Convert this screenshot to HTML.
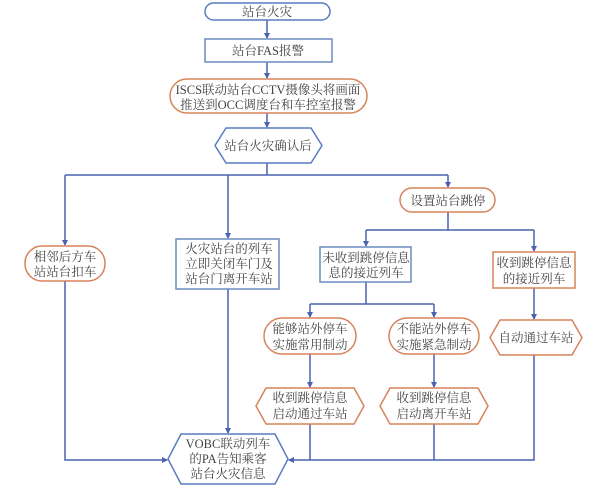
<!DOCTYPE html>
<html><head><meta charset="utf-8"><style>
body{margin:0;background:#fff}
svg text{font-family:"Liberation Serif","Noto Serif CJK SC",serif;font-size:12.5px;fill:#444;text-anchor:middle}
</style></head><body>
<svg width="600" height="487" viewBox="0 0 600 487" xmlns="http://www.w3.org/2000/svg">
<defs><marker id="a" markerWidth="6" markerHeight="6" refX="5" refY="3" orient="auto" markerUnits="userSpaceOnUse"><path d="M0,0L6,3L0,6z" fill="#4a62b0"/></marker></defs>
<g stroke="#4a62b0" stroke-width="1.5" fill="none">
<path d="M267,20V38" marker-end="url(#a)"/>
<path d="M267,62V78" marker-end="url(#a)"/>
<path d="M267,113V127" marker-end="url(#a)"/>
<path d="M267,163V175M65,175H448"/>
<path d="M65,175V245" marker-end="url(#a)"/>
<path d="M228,175V238" marker-end="url(#a)"/>
<path d="M448,175V187" marker-end="url(#a)"/>
<path d="M448,212V230M366,230H534"/>
<path d="M366,230V246" marker-end="url(#a)"/>
<path d="M534,230V251" marker-end="url(#a)"/>
<path d="M366,282V304M310,304H434"/>
<path d="M310,304V317" marker-end="url(#a)"/>
<path d="M434,304V317" marker-end="url(#a)"/>
<path d="M534,288V319" marker-end="url(#a)"/>
<path d="M310,354V387" marker-end="url(#a)"/>
<path d="M434,354V387" marker-end="url(#a)"/>
<path d="M65,281V460H167" marker-end="url(#a)"/>
<path d="M228,289V433" marker-end="url(#a)"/>
<path d="M534,355V460H289" marker-end="url(#a)"/>
<path d="M310,424V460M434,424V460"/>
</g>
<g fill="#fff" stroke-width="1.5">
<rect x="205" y="3" width="125" height="17" rx="8.5" stroke="#5a7cc0"/>
<rect x="205" y="39" width="127" height="23" stroke="#6a8cc0"/>
<rect x="170" y="79" width="197" height="34" rx="17" stroke="#d8825a"/>
<path d="M226,128H311L322,145.5L311,163H226L215,145.5Z" stroke="#5a7cc0"/>
<rect x="25" y="246" width="80" height="35" rx="17" stroke="#d8825a"/>
<rect x="176" y="239" width="103" height="50" stroke="#6a8cc0"/>
<rect x="400" y="188" width="95" height="24" rx="12" stroke="#d8825a"/>
<rect x="320" y="247" width="91" height="35" stroke="#6a8cc0"/>
<rect x="493" y="252" width="82" height="36" stroke="#d8825a"/>
<rect x="264" y="318" width="92" height="36" rx="18" stroke="#d8825a"/>
<rect x="389" y="318" width="90" height="36" rx="18" stroke="#d8825a"/>
<path d="M500,320H572L582,337.5L572,355H500L490,337.5Z" stroke="#d8825a"/>
<path d="M266,388H354L364,406L354,424H266L256,406Z" stroke="#d8825a"/>
<path d="M390,388H478L488,406L478,424H390L380,406Z" stroke="#d8825a"/>
<path d="M181,434H275L288,459L275,484H181L168,459Z" stroke="#5a7cc0"/>
</g>
<text x="267" y="16">站台火灾</text>
<text x="268" y="55">站台FAS报警</text>
<text x="268" y="94">ISCS联动站台CCTV摄像头将画面</text>
<text x="268" y="109">推送到OCC调度台和车控室报警</text>
<text x="268" y="150">站台火灾确认后</text>
<text x="65" y="261">相邻后方车</text>
<text x="65" y="276">站站台扣车</text>
<text x="229" y="253">火灾站台的列车</text>
<text x="229" y="268">立即关闭车门及</text>
<text x="229" y="283">站台门离开车站</text>
<text x="448" y="205">设置站台跳停</text>
<text x="366" y="262">未收到跳停信息</text>
<text x="366" y="277">息的接近列车</text>
<text x="534" y="267">收到跳停信息</text>
<text x="534" y="283">的接近列车</text>
<text x="310" y="333">能够站外停车</text>
<text x="310" y="349">实施常用制动</text>
<text x="434" y="333">不能站外停车</text>
<text x="434" y="349">实施紧急制动</text>
<text x="536" y="342">自动通过车站</text>
<text x="310" y="402">收到跳停信息</text>
<text x="310" y="418">启动通过车站</text>
<text x="434" y="402">收到跳停信息</text>
<text x="434" y="418">启动离开车站</text>
<text x="228" y="448">VOBC联动列车</text>
<text x="228" y="463">的PA告知乘客</text>
<text x="228" y="478">站台火灾信息</text>
</svg>
</body></html>
